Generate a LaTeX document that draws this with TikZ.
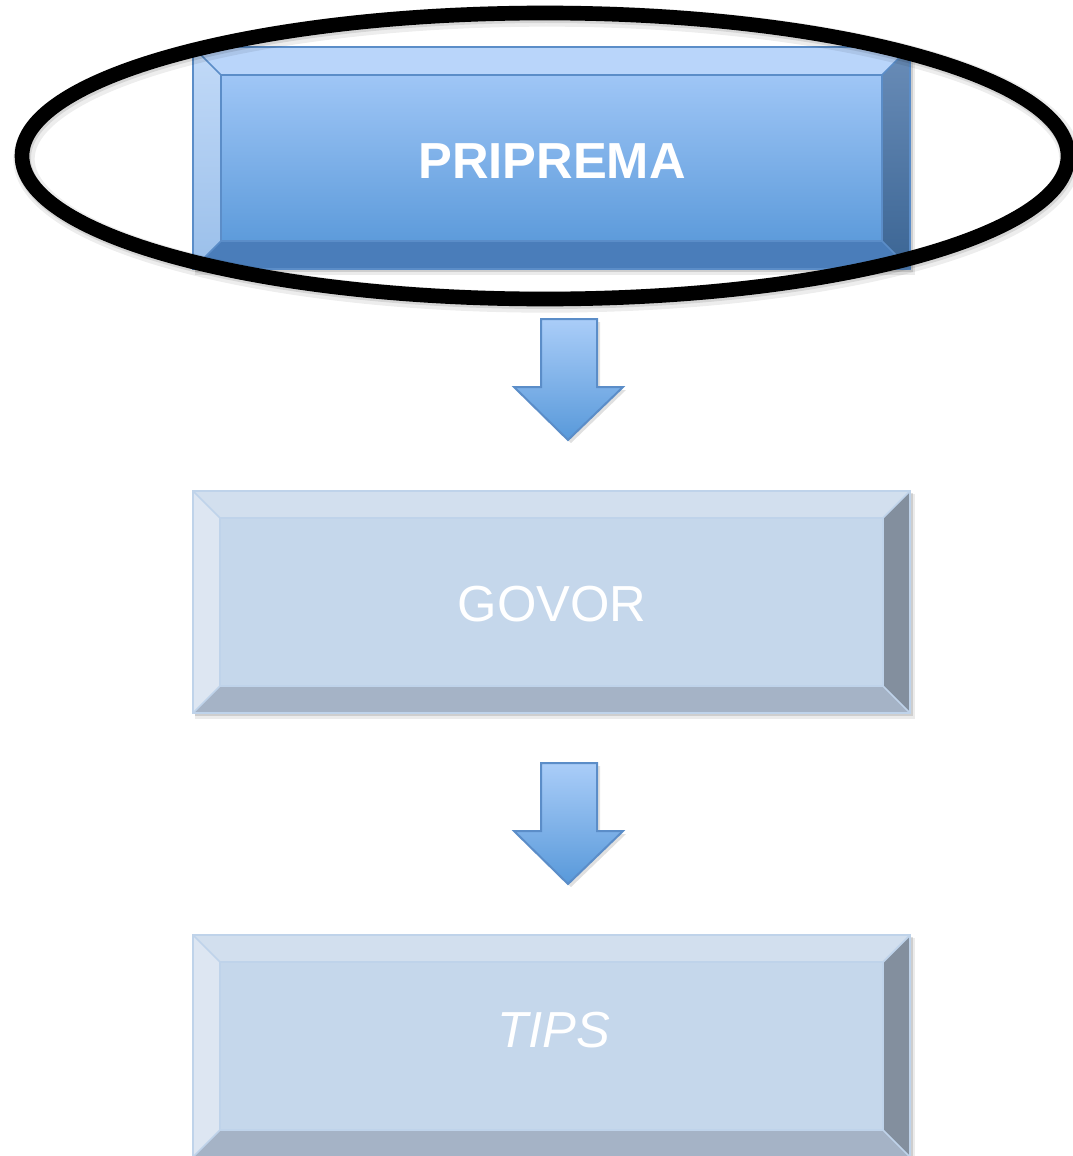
\documentclass[tikz,border=0pt]{standalone}
\usepackage{fontspec}
\setmainfont{Liberation Sans}
\definecolor{aFaceT}{HTML}{9FC6F6}
\definecolor{aFaceB}{HTML}{5D9BDB}
\definecolor{aTop}{HTML}{B9D5FA}
\definecolor{aLeftT}{HTML}{C2DAF8}
\definecolor{aLeftB}{HTML}{9ABFEA}
\definecolor{aRightT}{HTML}{6A8DB8}
\definecolor{aRightB}{HTML}{3B6594}
\definecolor{aBot}{HTML}{4A7DBA}
\definecolor{aEdge}{HTML}{5B8DC8}
\definecolor{bFace}{HTML}{C5D7EB}
\definecolor{bTop}{HTML}{D2DFEE}
\definecolor{bLeft}{HTML}{DDE6F2}
\definecolor{bRight}{HTML}{838F9E}
\definecolor{bBot}{HTML}{A5B3C6}
\definecolor{bEdge}{HTML}{BFD3EA}
\definecolor{arT}{HTML}{AACDF8}
\definecolor{arB}{HTML}{5899DA}
\newcommand{\bevelbox}[5]{% x1 y1 x2 y2 d ; colours set via \colorlet
  \fill[black, opacity=0.08] (#1+2,#2+3) rectangle (#3+5,#4+6);
  \fill[black, opacity=0.12] (#1+2,#2+2) rectangle (#3+3,#4+3);
  \shade[top color=fT, bottom color=fB] (#1+#5,#2+#5) rectangle (#3-#5,#4-#5);
  \fill[cTop] (#1,#2) -- (#3,#2) -- (#3-#5,#2+#5) -- (#1+#5,#2+#5) -- cycle;
  \shade[top color=cLT, bottom color=cLB] (#1,#2) -- (#1+#5,#2+#5) -- (#1+#5,#4-#5) -- (#1,#4) -- cycle;
  \shade[top color=cRT, bottom color=cRB] (#3,#2) -- (#3,#4) -- (#3-#5,#4-#5) -- (#3-#5,#2+#5) -- cycle;
  \fill[cBot] (#1,#4) -- (#1+#5,#4-#5) -- (#3-#5,#4-#5) -- (#3,#4) -- cycle;
  \draw[cEdge, line width=1.3] (#1+#5,#2+#5) rectangle (#3-#5,#4-#5);
  \draw[cEdge, line width=1.3] (#1,#2) -- (#1+#5,#2+#5) (#3,#2) -- (#3-#5,#2+#5)
        (#1,#4) -- (#1+#5,#4-#5) (#3,#4) -- (#3-#5,#4-#5);
  \draw[cEdge, line width=2] (#1,#2) rectangle (#3,#4);
}
\newcommand{\downarrowshape}[2]{% cx, top y
  \fill[black, opacity=0.12] (#1-27+3,#2+3) -- (#1+29+3,#2+3) -- (#1+29+3,#2+68+3) -- (#1+55+3,#2+68+3)
      -- (#1+3,#2+121+3) -- (#1-54+3,#2+68+3) -- (#1-27+3,#2+68+3) -- cycle;
  \shade[top color=arT, bottom color=arB, draw=aEdge, line width=1.5]
      (#1-27,#2) -- (#1+29,#2) -- (#1+29,#2+68) -- (#1+55,#2+68)
      -- (#1,#2+121) -- (#1-54,#2+68) -- (#1-27,#2+68) -- cycle;
}
\begin{document}
\begin{tikzpicture}[x=0.75pt,y=-0.75pt]
\useasboundingbox (0,0) rectangle (1072,1156);
\tikzset{boxtext/.style={text=white, font=\fontsize{38}{46}\selectfont, inner sep=0}}
% box 1
\colorlet{fT}{aFaceT}\colorlet{fB}{aFaceB}\colorlet{cTop}{aTop}
\colorlet{cLT}{aLeftT}\colorlet{cLB}{aLeftB}\colorlet{cRT}{aRightT}\colorlet{cRB}{aRightB}
\colorlet{cBot}{aBot}\colorlet{cEdge}{aEdge}
\bevelbox{193}{47}{910}{269}{28}
\node[boxtext, font=\fontsize{38}{46}\selectfont\bfseries] (t1) at (552,161) {PRIPREMA};
% boxes 2 and 3
\colorlet{fT}{bFace}\colorlet{fB}{bFace}\colorlet{cTop}{bTop}
\colorlet{cLT}{bLeft}\colorlet{cLB}{bLeft}\colorlet{cRT}{bRight}\colorlet{cRB}{bRight}
\colorlet{cBot}{bBot}\colorlet{cEdge}{bEdge}
\bevelbox{193}{491}{910}{713}{27}
\node[boxtext] (t2) at (552,604) {GOVOR};
\bevelbox{193}{935}{910}{1157}{27}
\node[boxtext, font=\fontsize{38}{46}\selectfont\itshape] (t3) at (554,1030) {TIPS};
% arrows
\downarrowshape{568}{319}
\downarrowshape{568}{763}
% ellipse highlight
\draw[black, opacity=0.07, line width=16] (547,159) ellipse [x radius=523, y radius=143];
\draw[black, opacity=0.1, line width=12] (546,158) ellipse [x radius=523, y radius=143];
\draw[black, line width=11] (545,156) ellipse [x radius=523, y radius=143];
\end{tikzpicture}
\end{document}
